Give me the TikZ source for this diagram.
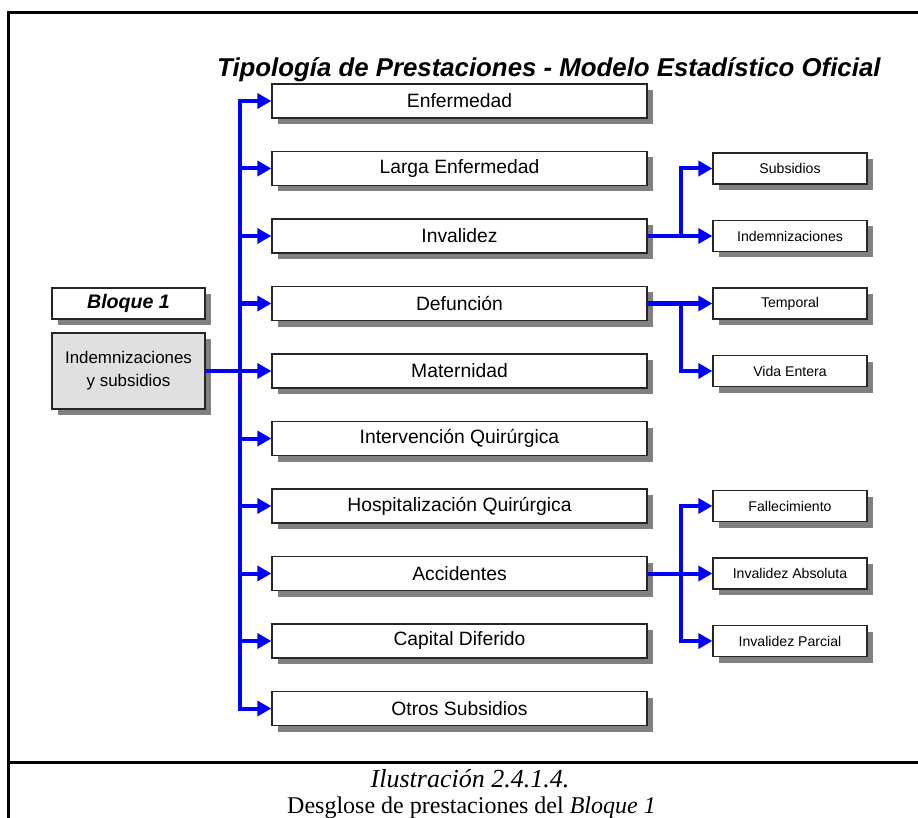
\documentclass[tikz,border=0pt]{standalone}
\usepackage{fontspec}
\setmainfont{Liberation Sans}
\newfontfamily\captionserif{Liberation Serif}
\usepackage{xcolor}
\usetikzlibrary{arrows.meta,shadows}
\definecolor{flowblue}{RGB}{0,0,255}
\definecolor{boxgray}{RGB}{224,224,224}
\definecolor{shadegray}{RGB}{128,128,128}

\tikzset{
  boxshade/.style={drop shadow={shadow xshift=6pt, shadow yshift=-6pt, opacity=1, fill=shadegray}},
  mainbox/.style={draw=black!85, line width=1.3pt, fill=white, boxshade, inner sep=0pt,
    minimum width=375pt, minimum height=34pt, font=\fontsize{19.3}{23}\selectfont},
  subbox/.style={draw=black!85, line width=1.3pt, fill=white, boxshade, inner sep=0pt,
    minimum width=154pt, minimum height=31pt, font=\fontsize{14.1}{17}\selectfont},
  blockbox/.style={draw=black!85, line width=1.3pt, boxshade, inner sep=0pt,
    minimum width=153pt, align=center},
  flow/.style={draw=flowblue, line width=4pt},
  tip/.style={-{Triangle[length=14pt,width=15pt]}},
  frame/.style={line width=3pt}
}

\begin{document}
\begin{tikzpicture}[x=1pt,y=-1pt]
  \useasboundingbox (0,0) rectangle (918,818);

  % frame and caption separator
  \draw[frame] (918,13) -- (8,13) -- (8,818);
  \draw[frame] (8,762) -- (918,762);

  % title
  \node[anchor=base west, inner sep=0pt, font=\fontsize{25.8}{30}\selectfont\bfseries\itshape]
    (title) at (217,77) {Tipología de Prestaciones - Modelo Estadístico Oficial};

  % block on the left
  \node[blockbox, fill=white, minimum height=31pt, font=\fontsize{19.6}{23}\selectfont\bfseries\itshape]
    (bloque) at (128.5,303.5) {Bloque 1};
  \node[blockbox, fill=boxgray, minimum height=76pt, font=\fontsize{16.9}{23}\selectfont]
    (indem) at (128.5,371) {Indemnizaciones\\y subsidios};

  % benefit types
  \foreach \name [count=\i from 0] in {Enfermedad, Larga Enfermedad, Invalidez, Defunción,
      Maternidad, Intervención Quirúrgica, Hospitalización Quirúrgica, Accidentes,
      Capital Diferido, Otros Subsidios}
    \node[mainbox] (m\i) at (459.5,{101+67.5*\i}) {\name};

  % breakdowns
  \node[subbox] (subsidios) at (790,168.5) {Subsidios};
  \node[subbox] (indemniz) at (790,236) {Indemnizaciones};
  \node[subbox] (temporal) at (790,303.5) {Temporal};
  \node[subbox] (vida) at (790,371) {Vida Entera};
  \node[subbox] (fallec) at (790,506) {Fallecimiento};
  \node[subbox] (invabs) at (790,573.5) {Invalidez Absoluta};
  \node[subbox] (invparc) at (790,641) {Invalidez Parcial};

  % main trunk
  \coordinate (trunk) at (240,0);
  \draw[flow, line cap=rect] (trunk |- m0.west) -- (trunk |- m9.west);
  \draw[flow] (indem.east) -- (trunk |- indem.east);
  \foreach \i in {0,...,9}
    \draw[flow, tip] (trunk |- m\i.west) -- (m\i.west);

  % branches
  \coordinate (branch) at (681,0);
  \draw[flow, tip] (m2.east) -- (indemniz.west);
  \draw[flow, tip] (branch |- m2.east) |- (subsidios.west);
  \draw[flow, tip] (m3.east) -- (temporal.west);
  \draw[flow, tip] (branch |- m3.east) |- (vida.west);
  \draw[flow, tip] (m7.east) -- (invabs.west);
  \draw[flow, tip] (branch |- m7.east) |- (fallec.west);
  \draw[flow, tip] (branch |- m7.east) |- (invparc.west);

  % caption
  \node[anchor=base, inner sep=0pt, font=\captionserif\fontsize{26}{30}\selectfont\itshape]
    (caption) at (470,787) {Ilustración 2.4.1.4.};
  \node[anchor=base, inner sep=0pt, font=\captionserif\fontsize{24}{28}\selectfont]
    (captiontext) at (471.5,813) {Desglose de prestaciones del \textit{Bloque 1}};
\end{tikzpicture}
\end{document}
